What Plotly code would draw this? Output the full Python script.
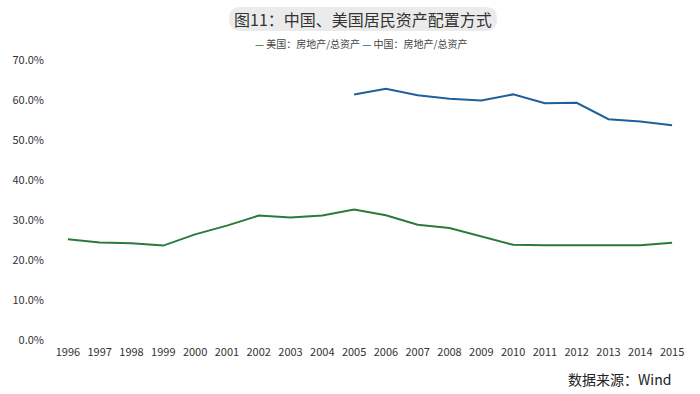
import plotly.graph_objects as go

years = [str(y) for y in range(1996, 2016)]
us_ratio = [25.2, 24.4, 24.2, 23.6, 26.4, 28.6, 31.1, 30.6, 31.1, 32.6,
            31.2, 28.8, 28.0, 25.9, 23.8, 23.7, 23.7, 23.6, 23.7, 24.3]
cn_years = [str(y) for y in range(2005, 2016)]
cn_ratio = [61.4, 62.8, 61.2, 60.3, 59.9, 61.4, 59.2, 59.3, 55.2, 54.6, 53.7]
y_ticks = [0, 10, 20, 30, 40, 50, 60, 70]

us_name = "美国：房地产/总资产"
cn_name = "中国：房地产/总资产"
us_color = "#2b7a3c"
cn_color = "#1f5f9b"
title_text = "图11：中国、美国居民资产配置方式"
source_text = "数据来源：Wind"

font_family = "Noto Sans CJK SC, Noto Sans, sans-serif"

ML, MR, MT, MB = 52, 12, 60, 54
W, H = 700, 394

fig = go.Figure()
fig.add_trace(go.Scatter(x=years, y=[v / 100 for v in us_ratio], name=us_name,
                         mode="lines", line=dict(color=us_color, width=2)))
fig.add_trace(go.Scatter(x=cn_years, y=[v / 100 for v in cn_ratio], name=cn_name,
                         mode="lines", line=dict(color=cn_color, width=2)))

fig.update_layout(
    width=W, height=H,
    margin=dict(l=ML, r=MR, t=MT, b=MB, autoexpand=False),
    paper_bgcolor="white", plot_bgcolor="white",
    showlegend=False,
    font=dict(family=font_family, size=11, color="#333333"),
    xaxis=dict(type="category", categoryorder="array", categoryarray=years,
               range=[-0.5, len(years) - 0.5], showgrid=False, zeroline=False,
               showline=False, ticks="", automargin=False, ticklabelstandoff=4,
               tickfont=dict(size=11, color="#333333")),
    yaxis=dict(range=[0, 0.7], tickvals=[t / 100 for t in y_ticks],
               tickformat=".1%", showgrid=False, zeroline=False, showline=False,
               ticks="", ticklabelstandoff=7, automargin=False,
               tickfont=dict(size=11, color="#333333")),
)

pw = W - ML - MR
ph = H - MT - MB


def px(x):
    return (x - ML) / pw


def py(y):
    return (H - MB - y) / ph


# Title pill (rounded rectangle)
x0, x1, y0, y1, r = 229, 497, 7, 31, 12
path = (f"M {px(x0 + r)},{py(y0)} L {px(x1 - r)},{py(y0)} Q {px(x1)},{py(y0)} {px(x1)},{py(y0 + r)} "
        f"Q {px(x1)},{py(y1)} {px(x1 - r)},{py(y1)} L {px(x0 + r)},{py(y1)} Q {px(x0)},{py(y1)} {px(x0)},{py(y1 - r)} "
        f"Q {px(x0)},{py(y0)} {px(x0 + r)},{py(y0)} Z")
fig.add_shape(type="path", xref="paper", yref="paper", layer="below",
              path=path, line=dict(width=0), fillcolor="#ebebeb")

fig.add_annotation(text=title_text, xref="paper", yref="paper",
                   x=px(363), y=py(19), xanchor="center", yanchor="middle",
                   showarrow=False, font=dict(size=16, color="#333333", family=font_family))

legend_text = (f'<span style="color:{us_color}">—</span> {us_name} '
               f'<span style="color:{cn_color}">—</span> {cn_name}')
fig.add_annotation(text=legend_text, xref="paper", yref="paper",
                   x=px(361), y=py(43), xanchor="center", yanchor="middle",
                   showarrow=False, font=dict(size=10, color="#444444", family=font_family))

fig.add_annotation(text=source_text, xref="paper", yref="paper",
                   x=px(673), y=py(379), xanchor="right", yanchor="middle",
                   showarrow=False, font=dict(size=14, color="#222222", family=font_family))

fig.write_html("out.html", config={"displayModeBar": False},
               post_script="document.body.style.margin='0';document.body.style.overflow='hidden';")
